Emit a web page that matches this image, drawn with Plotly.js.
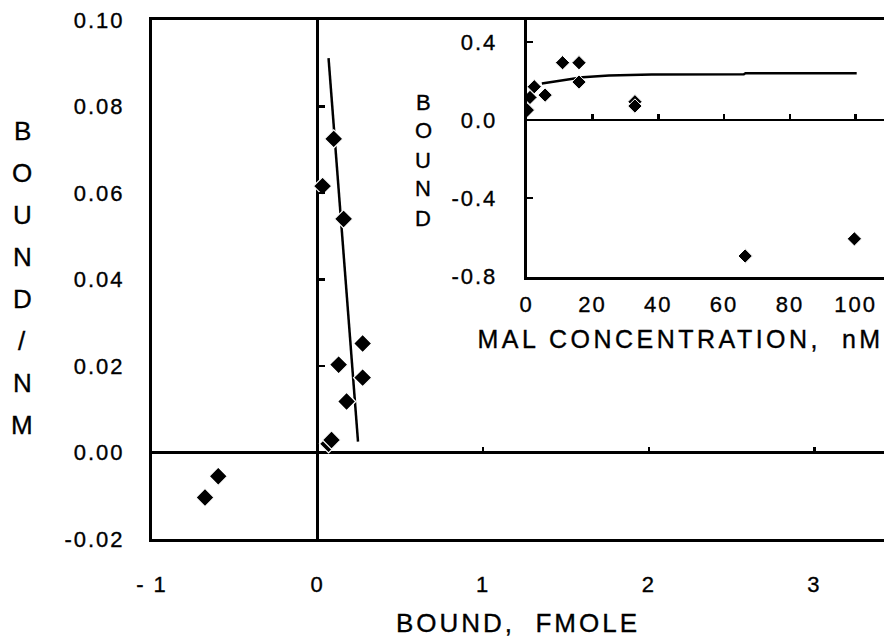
<!DOCTYPE html>
<html>
<head>
<meta charset="utf-8">
<script src="https://cdn.plot.ly/plotly-3.0.1.min.js"></script>
<style>
  html, body { margin: 0; padding: 0; background: #fff; }
  #chart { width: 884px; height: 641px; }
  #chart text { letter-spacing: 2px; stroke: #000; stroke-width: 0.35px; }
  #chart .xtitle { letter-spacing: 3px; }
</style>
</head>
<body>
<div id="chart"></div>
<script>
// ---- Main (Scatchard) plot data ----
const boundFmole = [0.097, 0.030, 0.157, 0.272, 0.127, 0.272, 0.175, 0.066, 0.084, -0.680, -0.600];
const boundPerNm = [0.0725, 0.0616, 0.0540, 0.0252, 0.0203, 0.0173, 0.0118, 0.0020, 0.0029, -0.0104, -0.0055];
const fitX = [0.066, 0.244];
const fitY = [0.0912, 0.0025];
const mainXTicks = [-1, 0, 1, 2, 3];
const mainXTickText = ['- 1', '0', '1', '2', '3'];
const mainYTicks = [-0.02, 0.00, 0.02, 0.04, 0.06, 0.08, 0.10];
const mainYTickText = ['-0.02', '0.00', '0.02', '0.04', '0.06', '0.08', '0.10'];
const mainXZeroTicks = [1, 2, 3];
const mainYZeroTicks = [0.02, 0.04, 0.06, 0.08];

// ---- Inset (saturation) data ----
const malConc = [0.2, 1.0, 2.3, 5.6, 10.9, 15.9, 15.9, 32.9, 32.9, 66.4, 99.6];
const boundInset = [0.051, 0.116, 0.171, 0.128, 0.294, 0.294, 0.195, 0.094, 0.072, -0.697, -0.609];
const curveX = [4.6, 8, 11, 17, 25, 38, 66, 66.5, 80, 100.3];
const curveY = [0.188, 0.196, 0.203, 0.220, 0.228, 0.233, 0.235, 0.240, 0.240, 0.240];
const insetXTicks = [0, 20, 40, 60, 80, 100];
const insetYTicks = [-0.8, -0.4, 0.0, 0.4];
const insetYTickText = ['-0.8', '-0.4', '0.0', '0.4'];
const insetXZeroTicks = [20, 40, 60, 80, 100];
const insetYInTicks = [-0.8, -0.4, 0.4];

const mainTitleLetters = ['B', 'O', 'U', 'N', 'D', '/', 'N', 'M'];
const insetTitleLetters = ['B', 'O', 'U', 'N', 'D'];
const insetXTitle = 'MAL CONCENTRATION,  nM';

const FONT = 'Liberation Sans, Arial, sans-serif';
const W = 884, H = 641;
const M = { l: 152, r: 0, t: 20, b: 102 };
const PW = W - M.l - M.r, PH = H - M.t - M.b;
const px2paperX = (px) => (px - M.l) / PW;
const px2paperY = (py) => (H - M.b - py) / PH;

const mainXRange = [-1, 3.42];
const mainYRange = [-0.02, 0.10];
const insetXRange = [0, 108.6];
const insetYRange = [-0.803, 0.513];
const insetXDomain = [px2paperX(526.7), 1];
const insetYDomain = [px2paperY(276.7), 1];

const markerMain = { symbol: 'diamond', size: 14, color: '#000', line: { color: '#fff', width: 1.2 } };
const markerInset = { symbol: 'diamond', size: 11, color: '#000', line: { color: '#fff', width: 1 } };

const traces = [
  { x: fitX, y: fitY, mode: 'lines', line: { color: '#000', width: 2.5 }, xaxis: 'x', yaxis: 'y', hoverinfo: 'skip' },
  { x: boundFmole, y: boundPerNm, mode: 'markers', marker: markerMain, xaxis: 'x', yaxis: 'y' },
  { x: [], y: [], mode: 'markers', xaxis: 'x2', yaxis: 'y' },
  { x: [], y: [], mode: 'markers', xaxis: 'x', yaxis: 'y2' },
  { x: curveX, y: curveY, mode: 'lines', line: { color: '#000', width: 2.5 }, xaxis: 'x3', yaxis: 'y3', hoverinfo: 'skip' },
  { x: malConc, y: boundInset, mode: 'markers', marker: markerInset, xaxis: 'x3', yaxis: 'y3' },
  { x: [], y: [], mode: 'markers', xaxis: 'x4', yaxis: 'y3' },
  { x: [], y: [], mode: 'markers', xaxis: 'x3', yaxis: 'y4' }
];

const tickFont = { family: FONT, size: 22, color: '#000' };

const annotations = [];
mainTitleLetters.forEach((ch, i) => {
  annotations.push({
    text: ch, xref: 'paper', yref: 'paper', x: px2paperX(23), y: px2paperY(131 + i * 42),
    xanchor: 'center', yanchor: 'middle', showarrow: false, font: { family: FONT, size: 26, color: '#000' }
  });
});
insetTitleLetters.forEach((ch, i) => {
  annotations.push({
    text: ch, xref: 'paper', yref: 'paper', x: px2paperX(424), y: px2paperY(102 + i * 29),
    xanchor: 'center', yanchor: 'middle', showarrow: false, font: { family: FONT, size: 22, color: '#000' }
  });
});
annotations.push({
  text: insetXTitle, xref: 'paper', yref: 'paper', x: px2paperX(680), y: px2paperY(339),
  xanchor: 'center', yanchor: 'middle', showarrow: false, font: { family: FONT, size: 25, color: '#000' }
});

const layout = {
  width: W, height: H, margin: M, showlegend: false,
  paper_bgcolor: '#fff', plot_bgcolor: 'rgba(0,0,0,0)',
  font: { family: FONT, color: '#000' },
  xaxis: {
    range: mainXRange, showgrid: false, showline: true, linecolor: '#000', linewidth: 3, mirror: true,
    zeroline: true, zerolinecolor: '#000', zerolinewidth: 3, ticks: '', tickvals: mainXTicks, ticktext: mainXTickText,
    tickfont: tickFont, ticklabelstandoff: 24,
    title: { text: 'BOUND,  FMOLE', font: { family: FONT, size: 26, color: '#000' }, standoff: 18 }
  },
  yaxis: {
    range: mainYRange, showgrid: false, showline: true, linecolor: '#000', linewidth: 3,
    zeroline: true, zerolinecolor: '#000', zerolinewidth: 3, ticks: '', tickvals: mainYTicks, ticktext: mainYTickText,
    tickfont: tickFont, ticklabelstandoff: 20
  },
  xaxis2: {
    overlaying: 'x', anchor: 'free', position: (0 - mainYRange[0]) / (mainYRange[1] - mainYRange[0]),
    range: mainXRange, showgrid: false, showline: false, zeroline: false, ticks: 'inside', ticklen: 6, tickwidth: 2.5,
    tickcolor: '#000', tickvals: mainXZeroTicks, showticklabels: false
  },
  yaxis2: {
    overlaying: 'y', anchor: 'free', position: (0 - mainXRange[0]) / (mainXRange[1] - mainXRange[0]),
    range: mainYRange, showgrid: false, showline: false, zeroline: false, ticks: 'inside', ticklen: 6, tickwidth: 2.5,
    tickcolor: '#000', tickvals: mainYZeroTicks, showticklabels: false
  },
  xaxis3: {
    domain: insetXDomain, anchor: 'y3', range: insetXRange, showgrid: false, showline: true, linecolor: '#000', linewidth: 3,
    zeroline: false, ticks: '', tickvals: insetXTicks, tickfont: tickFont, ticklabelstandoff: 6
  },
  yaxis3: {
    domain: insetYDomain, anchor: 'x3', range: insetYRange, showgrid: false, showline: true, linecolor: '#000', linewidth: 3,
    zeroline: true, zerolinecolor: '#000', zerolinewidth: 2.5, ticks: '', tickvals: insetYTicks, ticktext: insetYTickText,
    tickfont: tickFont, ticklabelstandoff: 22
  },
  xaxis4: {
    overlaying: 'x3', anchor: 'free',
    position: insetYDomain[0] + (insetYDomain[1] - insetYDomain[0]) * (0 - insetYRange[0]) / (insetYRange[1] - insetYRange[0]),
    range: insetXRange, showgrid: false, showline: false, zeroline: false, ticks: 'inside', ticklen: 6, tickwidth: 2.5,
    tickcolor: '#000', tickvals: insetXZeroTicks, showticklabels: false
  },
  yaxis4: {
    overlaying: 'y3', anchor: 'x3', range: insetYRange, showgrid: false, showline: false, zeroline: false,
    ticks: 'inside', ticklen: 6, tickwidth: 2.5, tickcolor: '#000', tickvals: insetYInTicks, showticklabels: false
  },
  annotations: annotations
};

Plotly.newPlot('chart', traces, layout, { displayModeBar: false, staticPlot: true }).then(() => {
  document.querySelectorAll('#chart .annotation-text').forEach((t) => {
    if (t.textContent.indexOf('MAL') === 0) t.style.letterSpacing = '3.5px';
  });
});
</script>
</body>
</html>
